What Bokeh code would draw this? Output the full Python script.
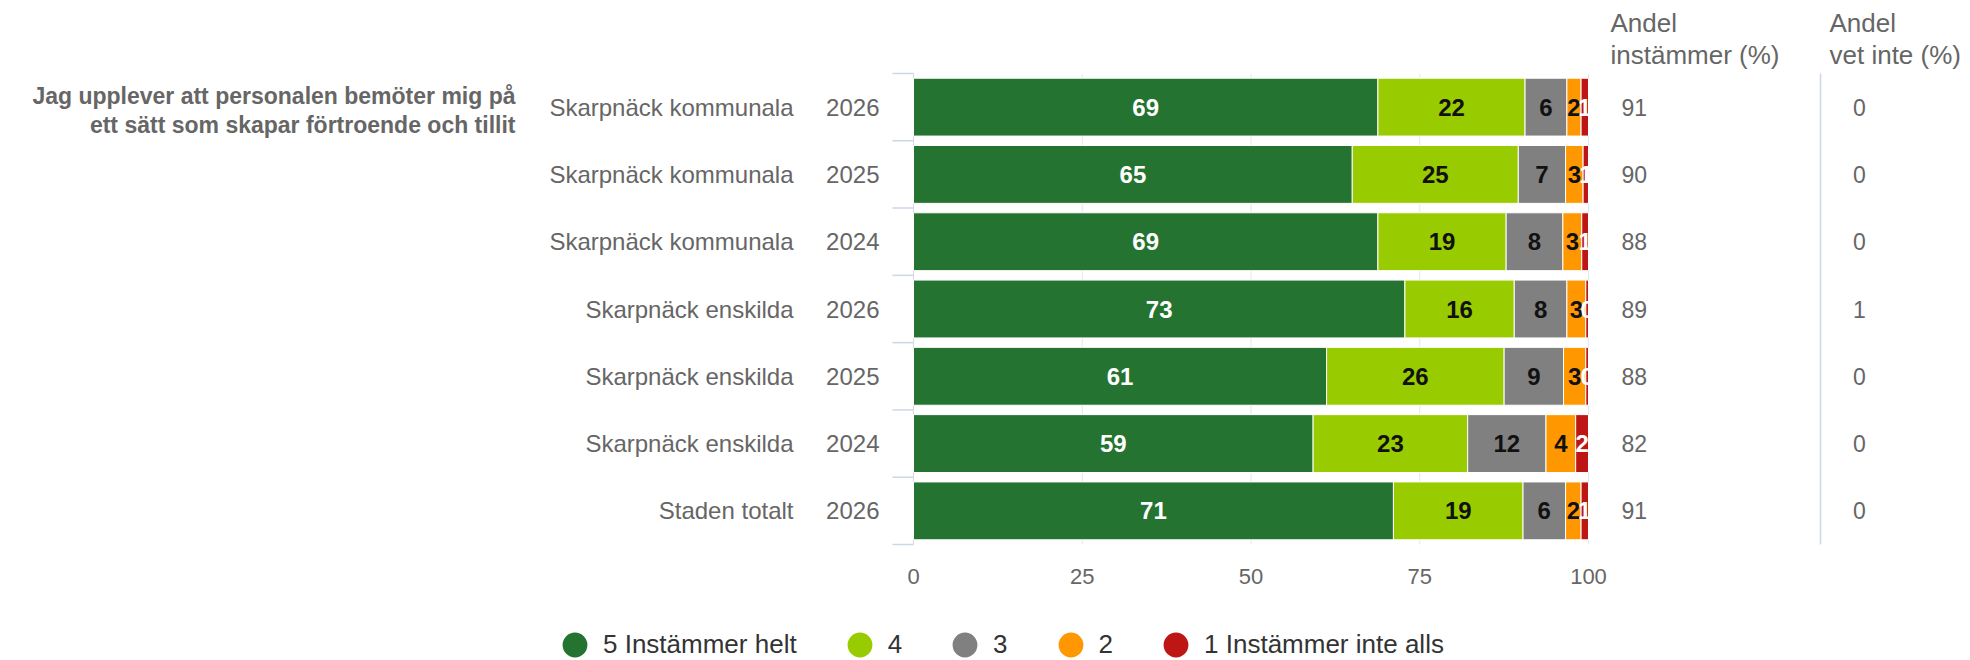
from bokeh.plotting import figure
from bokeh.layouts import column
from bokeh.models import (Range1d, ColumnDataSource, FixedTicker, Legend, LegendItem)
from bokeh.core.properties import value
from bokeh.embed import file_html
from bokeh.resources import INLINE

# ---------------- data ----------------
categories = ["Skarpnäck kommunala", "Skarpnäck kommunala", "Skarpnäck kommunala",
              "Skarpnäck enskilda", "Skarpnäck enskilda", "Skarpnäck enskilda",
              "Staden totalt"]
years = ["2026", "2025", "2024", "2026", "2025", "2024", "2026"]
series_names = ["5 Instämmer helt", "4", "3", "2", "1 Instämmer inte alls"]
s5 = [68.8, 65.0, 68.8, 72.8, 61.2, 59.2, 71.1]
s4 = [21.8, 24.6, 19.0, 16.2, 26.3, 22.9, 19.2]
s3 = [6.2, 7.0, 8.4, 7.8, 8.8, 11.6, 6.3]
s2 = [2.1, 2.6, 2.8, 2.8, 3.3, 4.4, 2.3]
s1 = [1.1, 0.8, 1.0, 0.4, 0.4, 1.9, 1.1]
andel_instammer = [91, 90, 88, 89, 88, 82, 91]
andel_vet_inte = [0, 0, 0, 1, 0, 0, 0]
x_ticks = [0, 25, 50, 75, 100]
question = ["Jag upplever att personalen bemöter mig på",
            "ett sätt som skapar förtroende och tillit"]
header_instammer = ["Andel", "instämmer (%)"]
header_vet_inte = ["Andel", "vet inte (%)"]

# ---------------- styles ----------------
colors = ["#257330", "#99cc00", "#808080", "#ff9800", "#be1515"]
label_colors = ["#ffffff", "#111111", "#111111", "#111111", "#ffffff"]
FONT = value("Liberation Sans")
GREY = "#666666"

# layout (px): x=0 -> 913, x=100 -> 1588 ; row 0 top -> 73, row 7 bottom -> 544
PX_PER_X = 6.75
PX_PER_ROW = 67.286
W = 1970
H1, H2 = 620, 40
FRAME_BOTTOM = 552  # y of the bottom of the chart frame
def xd(px):
    return (px - 913) / PX_PER_X
def yd(py):
    return (py - 73) / PX_PER_ROW

n = len(categories)
rows = [i + 0.5 for i in range(n)]

p = figure(width=W, height=H1, output_backend="svg", toolbar_location=None,
           x_range=Range1d(xd(0), xd(W)),
           y_range=Range1d(yd(FRAME_BOTTOM), yd(0)),
           y_axis_location=None,
           min_border_left=0, min_border_right=0, min_border_top=0,
           min_border_bottom=H1 - FRAME_BOTTOM)
p.outline_line_color = None
p.xgrid.visible = False
p.ygrid.visible = False

# grid lines (behind bars)
p.segment(x0=x_ticks[1:], x1=x_ticks[1:], y0=[0] * 4, y1=[n] * 4,
          line_color="#e6e6e6", line_width=1)
# category axis line and boundary ticks
p.segment(x0=[0], x1=[0], y0=[0], y1=[n], line_color="#d9d9d9", line_width=1)
bounds = list(range(n + 1))
p.segment(x0=[xd(892)] * len(bounds), x1=[0] * len(bounds), y0=bounds, y1=bounds,
          line_color="#ccd6eb", line_width=1.5)
# separator before "vet inte"
p.segment(x0=[xd(1820)], x1=[xd(1820)], y0=[0], y1=[n], line_color="#ccd6eb", line_width=1.5)

# stacked bars
series = [s5, s4, s3, s2, s1]
left = [0.0] * n
for k, vals in enumerate(series):
    right = [l + v for l, v in zip(left, vals)]
    src = ColumnDataSource(dict(y=rows, left=left, right=right,
                                mid=[(l + r) / 2 for l, r in zip(left, right)],
                                lab=[str(int(round(v))) for v in vals]))
    p.hbar(y="y", left="left", right="right", height=0.86, source=src,
           fill_color=colors[k], line_color="white", line_width=1)
    p.text(x="mid", y="y", text="lab", source=src, text_font=FONT,
           text_font_size=value("24px"), text_font_style="bold",
           text_color=label_colors[k], text_align="center", text_baseline="middle")
    left = right

# category labels
p.text(x=[xd(793)] * n, y=rows, text=categories, text_font=FONT,
       text_font_size=value("24px"), text_color=GREY, text_align="right",
       text_baseline="middle")
p.text(x=[xd(879)] * n, y=rows, text=years, text_font=FONT,
       text_font_size=value("24px"), text_color=GREY, text_align="right",
       text_baseline="middle")

# question text
p.text(x=[xd(515)] * 2, y=[yd(95), yd(124)], text=question, text_font=FONT,
       text_font_size=value("23px"), text_font_style="bold", text_color=GREY,
       text_align="right", text_baseline="middle")

# right table
p.text(x=[xd(1621)] * n, y=rows, text=[str(v) for v in andel_instammer], text_font=FONT,
       text_font_size=value("23px"), text_color=GREY, text_align="left",
       text_baseline="middle")
p.text(x=[xd(1859)] * n, y=rows, text=[str(v) for v in andel_vet_inte], text_font=FONT,
       text_font_size=value("23px"), text_color=GREY, text_align="center",
       text_baseline="middle")
p.text(x=[xd(1610)] * 2, y=[yd(22), yd(54)], text=header_instammer, text_font=FONT,
       text_font_size=value("26px"), text_color=GREY, text_align="left",
       text_baseline="middle")
p.text(x=[xd(1829)] * 2, y=[yd(22), yd(54)], text=header_vet_inte, text_font=FONT,
       text_font_size=value("26px"), text_color=GREY, text_align="left",
       text_baseline="middle")

# x axis
ax = p.xaxis[0]
ax.ticker = FixedTicker(ticks=x_ticks)
ax.axis_line_color = None
ax.major_tick_line_color = None
ax.minor_tick_line_color = None
ax.major_tick_out = 0
ax.major_tick_in = 0
ax.major_label_standoff = 16
ax.major_label_text_font = "Liberation Sans"
ax.major_label_text_font_size = "22px"
ax.major_label_text_color = GREY

# legend figure (below the chart)
p2 = figure(width=W, height=H2, output_backend="svg", toolbar_location=None,
            x_range=Range1d(0, 1), y_range=Range1d(0, 1),
            x_axis_location=None, y_axis_location=None,
            min_border_left=0, min_border_right=0, min_border_top=0, min_border_bottom=0)
p2.outline_line_color = None
p2.xgrid.visible = False
p2.ygrid.visible = False
items = []
for k, name in enumerate(series_names):
    r = p2.ellipse(x=[-10], y=[-10], width=25, height=25, width_units="screen",
                   height_units="screen", fill_color=colors[k], line_color=None)
    items.append(LegendItem(label=name, renderers=[r]))
legend = Legend(items=items, orientation="horizontal", location=(559, 0),
                glyph_width=31, glyph_height=31, label_standoff=13, spacing=47,
                label_width=14, padding=0, margin=0, border_line_color=None,
                background_fill_alpha=0,
                label_text_font="Liberation Sans", label_text_font_size="26px",
                label_text_color="#333333")
p2.add_layout(legend)

layout = column(p, p2, spacing=0)
open("out.html", "w").write(file_html(layout, INLINE))
